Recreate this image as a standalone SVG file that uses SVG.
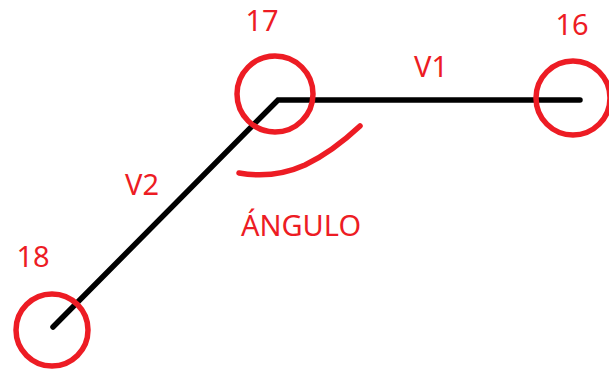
<svg xmlns="http://www.w3.org/2000/svg" width="609" height="376" viewBox="0 0 609 376">
<style>
.mark{fill:none;stroke:#ed1c24;stroke-width:5.5}
.lbl{fill:#ed1c24;font-family:"Noto Sans","Open Sans",sans-serif;font-size:29px;text-anchor:middle}
.vec{fill:none;stroke:#000;stroke-width:5.5;stroke-linecap:round;stroke-linejoin:miter}
</style>
<rect width="609" height="376" fill="#fff"/>
<g id="connectors">
<polyline class="vec" points="53,327 278,100 580,100"/>
<path class="mark" stroke-linecap="round" d="M239,173 C262,177 285,174 305,165 C328,154 345,140 360,126"/>
</g>
<g id="node17">
<circle class="mark" cx="275" cy="94" r="38"/>
<text class="lbl" x="262" y="31">17</text>
</g>
<g id="node16">
<circle class="mark" cx="573" cy="98" r="37"/>
<text class="lbl" x="572" y="35">16</text>
</g>
<g id="node18">
<circle class="mark" cx="52" cy="330" r="36"/>
<text class="lbl" x="33" y="267">18</text>
</g>
<text class="lbl" x="431" y="77">V1</text>
<text class="lbl" x="142" y="195">V2</text>
<text class="lbl" x="301" y="236">ÁNGULO</text>
</svg>
